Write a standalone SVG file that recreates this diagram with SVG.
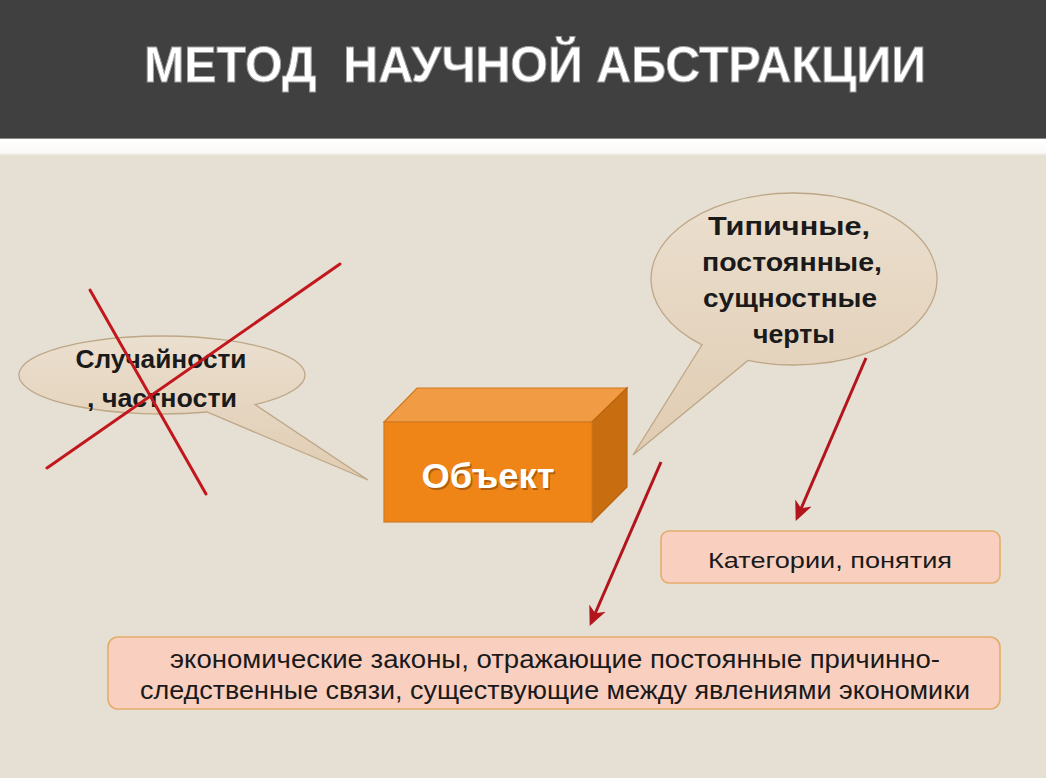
<svg xmlns="http://www.w3.org/2000/svg" width="1046" height="778" viewBox="0 0 1046 778">
<defs>
<linearGradient id="bub" x1="0" y1="0" x2="0" y2="1">
<stop offset="0" stop-color="#ebdfcf"/>
<stop offset="1" stop-color="#e0ccb2"/>
</linearGradient>
<linearGradient id="strip" x1="0" y1="0" x2="0" y2="1">
<stop offset="0" stop-color="#ffffff"/>
<stop offset="0.8" stop-color="#fbfaf7"/>
<stop offset="1" stop-color="#e5dfd4"/>
</linearGradient>
<marker id="ah" viewBox="0 0 12 12" refX="10" refY="6" markerWidth="6.5" markerHeight="6.5" orient="auto" markerUnits="strokeWidth">
<path d="M0,0.5 L12,6 L0,11.5 L3.5,6 Z" fill="#b3151c"/>
</marker>
<style>
.bt{font-family:"Liberation Sans",Arial,sans-serif;font-weight:bold;fill:#1a1a1a;text-anchor:middle}
.bx{font-family:"Liberation Sans",Arial,sans-serif;fill:#1a1a1a;text-anchor:middle}
.bubble{fill:url(#bub);stroke:#bda786;stroke-width:1.3}
.rect{fill:#f9cfbf;stroke:#e5ad6c;stroke-width:1.6}
.x{stroke:#c2171d;stroke-width:3;stroke-linecap:round}
.arr{stroke:#b3151c;stroke-width:3;fill:none;marker-end:url(#ah)}
</style>
</defs>
<rect width="1046" height="778" fill="#e5dfd4"/>
<rect width="1046" height="138" fill="#404040"/>
<rect y="138" width="1046" height="18" fill="url(#strip)"/>
<line x1="0" y1="138.5" x2="1046" y2="138.5" stroke="#8a8a8a" stroke-width="1"/>
<text id="title" xml:space="preserve" x="535" y="82" textLength="782" lengthAdjust="spacingAndGlyphs" font-family="Liberation Sans, Arial, sans-serif" font-weight="bold" font-size="50" fill="#ffffff" stroke="#9c9c9c" stroke-width="1" text-anchor="middle">МЕТОД  НАУЧНОЙ АБСТРАКЦИИ</text>

<g id="bubble-left">
<path class="bubble" d="M207,412 A143 39 0 1 1 255,404.6 L368,480 Z"/>
<text class="bt" x="161" y="368" font-size="26" textLength="171" lengthAdjust="spacingAndGlyphs">Случайности</text>
<text class="bt" x="162" y="407" font-size="26" textLength="150" lengthAdjust="spacingAndGlyphs">, частности</text>
</g>

<g id="cross">
<line class="x" x1="90" y1="290" x2="206" y2="494"/>
<line class="x" x1="340" y1="264" x2="47" y2="468"/>
</g>

<g id="bubble-right">
<path class="bubble" d="M748,360.4 A143 86 0 1 0 702,344.8 L633,455 Z"/>
<text class="bt" x="789" y="235" font-size="26" textLength="162" lengthAdjust="spacingAndGlyphs">Типичные,</text>
<text class="bt" x="792" y="271" font-size="26" textLength="180" lengthAdjust="spacingAndGlyphs">постоянные,</text>
<text class="bt" x="790" y="307" font-size="26" textLength="174" lengthAdjust="spacingAndGlyphs">сущностные</text>
<text class="bt" x="794" y="343" font-size="26" textLength="82" lengthAdjust="spacingAndGlyphs">черты</text>
</g>

<g id="object">
<polygon points="384,422 417,388 627,388 592,422" fill="#f19c44" stroke="#cf7a22" stroke-width="1.2"/>
<polygon points="592,422 627,388 627,487 592,522" fill="#c86e10" stroke="#b8650f" stroke-width="1.2"/>
<rect x="384" y="422" width="208" height="100" fill="#ef8517" stroke="#cf7a22" stroke-width="1.2"/>
<text x="489.5" y="489.5" textLength="133" lengthAdjust="spacingAndGlyphs" font-family="Liberation Sans, Arial, sans-serif" font-weight="bold" font-size="35" fill="#7a3c05" fill-opacity="0.55" text-anchor="middle">Объект</text>
<text x="488" y="488" textLength="133" lengthAdjust="spacingAndGlyphs" font-family="Liberation Sans, Arial, sans-serif" font-weight="bold" font-size="35" fill="#ffffff" text-anchor="middle">Объект</text>
</g>

<g id="categories">
<rect class="rect" x="661" y="531" width="339" height="52" rx="8"/>
<text class="bx" x="830" y="568" font-size="22" textLength="244" lengthAdjust="spacingAndGlyphs">Категории, понятия</text>
</g>

<g id="laws">
<rect class="rect" x="108" y="637" width="892" height="72" rx="10"/>
<text class="bx" x="555" y="668" font-size="25" textLength="770" lengthAdjust="spacingAndGlyphs">экономические законы, отражающие постоянные причинно-</text>
<text class="bx" x="555" y="699" font-size="25" textLength="830" lengthAdjust="spacingAndGlyphs">следственные связи, существующие между явлениями экономики</text>
</g>

<g id="connectors">
<line class="arr" x1="866" y1="358" x2="797" y2="518"/>
<line class="arr" x1="661" y1="462" x2="591" y2="623"/>
</g>
</svg>
